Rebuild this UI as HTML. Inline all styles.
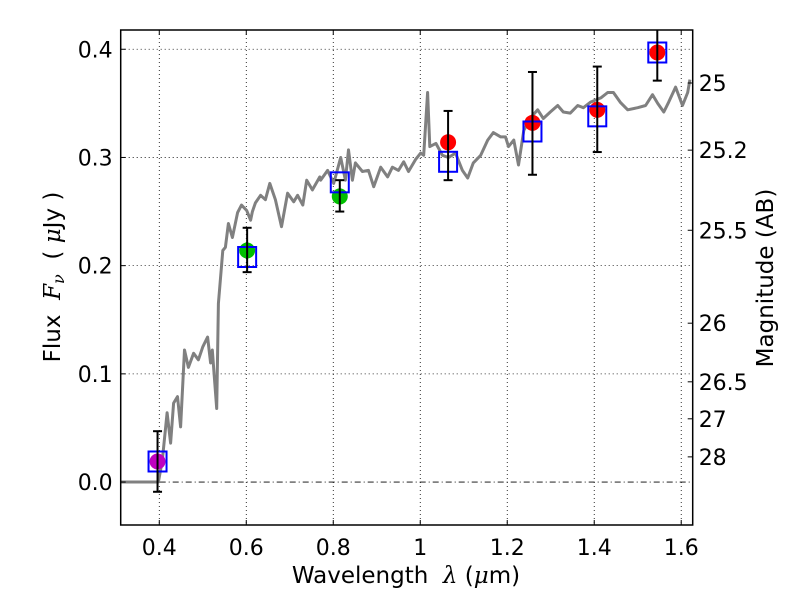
<!DOCTYPE html>
<html><head><meta charset="utf-8"><style>
html,body{margin:0;padding:0;background:#fff;}
svg{display:block;font-family:"DejaVu Sans","Liberation Sans",sans-serif;}
</style></head><body>
<svg id="chart" width="800" height="600" viewBox="0 0 800 600" xmlns="http://www.w3.org/2000/svg">
<rect width="800" height="600" fill="#fff"/>
<g id="grid"></g>
<g id="spec"></g>
<g id="pts"></g>
<g id="axes"></g>
</svg>
<script>
const specLam=[0.311,0.398,0.407,0.418,0.426,0.433,0.442,0.449,0.458,0.467,0.479,0.490,0.500,0.511,0.518,0.522,0.532,0.536,0.546,0.552,0.559,0.568,0.580,0.589,0.601,0.610,0.614,0.621,0.633,0.644,0.654,0.667,0.681,0.695,0.709,0.718,0.730,0.739,0.752,0.769,0.771,0.787,0.801,0.817,0.828,0.835,0.844,0.851,0.867,0.881,0.893,0.909,0.925,0.936,0.950,0.962,0.973,0.989,1.001,1.008,1.017,1.022,1.036,1.051,1.065,1.081,1.097,1.109,1.122,1.139,1.155,1.168,1.185,1.196,1.203,1.215,1.226,1.238,1.254,1.270,1.283,1.299,1.316,1.329,1.345,1.362,1.375,1.391,1.415,1.431,1.444,1.460,1.477,1.500,1.518,1.534,1.546,1.560,1.571,1.587,1.603,1.615,1.620];
const specFlux=[0,0,0.020,0.064,0.036,0.073,0.079,0.051,0.122,0.106,0.119,0.113,0.125,0.134,0.110,0.122,0.068,0.165,0.214,0.217,0.239,0.226,0.249,0.256,0.251,0.242,0.250,0.258,0.265,0.261,0.276,0.261,0.236,0.267,0.259,0.265,0.256,0.279,0.270,0.282,0.279,0.288,0.276,0.300,0.279,0.307,0.279,0.295,0.287,0.288,0.273,0.291,0.282,0.291,0.288,0.296,0.287,0.298,0.304,0.302,0.360,0.310,0.313,0.302,0.300,0.304,0.288,0.281,0.295,0.302,0.316,0.323,0.319,0.319,0.310,0.316,0.293,0.325,0.337,0.344,0.336,0.342,0.348,0.342,0.341,0.348,0.346,0.351,0.355,0.360,0.360,0.351,0.344,0.346,0.348,0.358,0.350,0.342,0.351,0.365,0.348,0.360,0.372];
const bandLam=[0.396,0.602,0.815,1.064,1.258,1.407,1.545];
const obsFlux=[0.019,0.214,0.264,0.314,0.332,0.344,0.397];
const errHi=[0.047,0.235,0.279,0.343,0.379,0.384,0.425];
const errLo=[-0.009,0.194,0.250,0.279,0.284,0.305,0.371];
const modelFlux=[0.019,0.208,0.277,0.296,0.324,0.338,0.397];
const pointColors=['#bf00bf','#00bf00','#00bf00','#ff0000','#ff0000','#ff0000','#ff0000'];
const xTicks=[0.4,0.6,0.8,1.0,1.2,1.4,1.6];
const xTickLabels=['0.4','0.6','0.8','1','1.2','1.4','1.6'];
const yTicks=[0,0.1,0.2,0.3,0.4];
const yTickLabels=['0.0','0.1','0.2','0.3','0.4'];
const magTicks=[25,25.2,25.5,26,26.5,27,28];
const magTickLabels=['25','25.2','25.5','26','26.5','27','28'];

const L=120.7,R=692.7,T=30,B=525;
const XMIN=0.3113,XMAX=1.6264,YMIN=-0.0397,YMAX=0.4178,ZP=23.917;
const sx=v=>L+(v-XMIN)/(XMAX-XMIN)*(R-L);
const sy=v=>B-(v-YMIN)/(YMAX-YMIN)*(B-T);
const NS='http://www.w3.org/2000/svg';
function mk(tag,parent,attrs){const e=document.createElementNS(NS,tag);for(const k in attrs)e.setAttribute(k,attrs[k]);parent.appendChild(e);return e;}
const grid=document.getElementById('grid'),spec=document.getElementById('spec'),pts=document.getElementById('pts'),axes=document.getElementById('axes');

xTicks.forEach((t,i)=>{
  const g=mk('line',grid,{x1:sx(t),x2:sx(t),y1:T,y2:B,stroke:'#000','stroke-width':0.8,'stroke-dasharray':'1,3'});
  
  
});
yTicks.forEach((t,i)=>{
  if(t===0)return;
  const g=mk('line',grid,{x1:L,x2:R,y1:sy(t),y2:sy(t),stroke:'#000','stroke-width':0.8,'stroke-dasharray':'1,3'});
  
  
});
const z=mk('line',grid,{x1:L,x2:R,y1:sy(0),y2:sy(0),stroke:'#000','stroke-width':0.8,'stroke-dasharray':'6,3,1,3'});



const d=specLam.map((l,i)=>(i?'L':'M')+sx(l).toFixed(1)+','+sy(specFlux[i]).toFixed(1)).join(' ');
const sp=mk('path',spec,{d:d,fill:'none',stroke:'#808080','stroke-width':3,'stroke-linejoin':'round'});



bandLam.forEach((l,i)=>{
  const x=sx(l);
  const c=mk('circle',pts,{cx:x,cy:sy(obsFlux[i]),r:8,fill:pointColors[i]});
  
  
  const b=mk('rect',pts,{x:x-9,y:sy(modelFlux[i])-10,width:18,height:20,fill:'none',stroke:'#0000ff','stroke-width':2});
  
  
  const yh=Math.max(sy(errHi[i]),T),yl=sy(errLo[i]);
  const e=mk('line',pts,{x1:x,x2:x,y1:yh,y2:yl,stroke:'#000','stroke-width':2});
  
  
  [yh,yl].forEach(yy=>{
    if(yy<=T+0.5)return;
    const cp=mk('line',pts,{x1:x-4.5,x2:x+4.5,y1:yy,y2:yy,stroke:'#000','stroke-width':2});
    
    
  });
});

const fr=mk('rect',axes,{x:L,y:T,width:R-L,height:B-T,fill:'none',stroke:'#000','stroke-width':1.5});


xTicks.forEach((t,i)=>{
  const x=sx(t);
  mk('line',axes,{x1:x,x2:x,y1:B,y2:B-5,stroke:'#000','stroke-width':1});
  mk('line',axes,{x1:x,x2:x,y1:T,y2:T+5,stroke:'#000','stroke-width':1});
  const tx=mk('text',axes,{x:x,y:B+30,'font-size':22,'text-anchor':'middle',fill:'#000'});
  tx.textContent=xTickLabels[i];
  
  
});
yTicks.forEach((t,i)=>{
  const y=sy(t);
  mk('line',axes,{x1:L,x2:L+5,y1:y,y2:y,stroke:'#000','stroke-width':1});
  const tx=mk('text',axes,{x:L-8,y:y+8,'font-size':22,'text-anchor':'end',fill:'#000'});
  tx.textContent=yTickLabels[i];
  
  
});
magTicks.forEach((m,i)=>{
  const y=sy(Math.pow(10,(ZP-m)/2.5));
  mk('line',axes,{x1:R,x2:R-5,y1:y,y2:y,stroke:'#000','stroke-width':1});
  const tx=mk('text',axes,{x:R+6,y:y+8,'font-size':22,'text-anchor':'start',fill:'#000'});
  tx.textContent=magTickLabels[i];
  
  
});
</script>
<svg style="position:absolute;left:0;top:0" width="800" height="600" xmlns="http://www.w3.org/2000/svg" font-family="DejaVu Sans, Liberation Sans, sans-serif">
<text x="406" y="583" font-size="23" text-anchor="middle" xml:space="preserve">Wavelength  <tspan font-style="italic" font-family="DejaVu Serif, serif">λ</tspan> (<tspan font-style="italic" font-family="DejaVu Serif, serif">μ</tspan>m)</text>
<text transform="translate(60,277) rotate(-90)" font-size="23" text-anchor="middle" xml:space="preserve">Flux  <tspan font-style="italic" font-family="DejaVu Serif, serif">F</tspan><tspan font-style="italic" font-family="DejaVu Serif, serif" font-size="16" dy="4">ν</tspan><tspan dy="-4">  ( </tspan><tspan font-style="italic" font-family="DejaVu Serif, serif">μ</tspan>Jy )</text>
<text transform="translate(773,278) rotate(-90)" font-size="23" text-anchor="middle">Magnitude (AB)</text>
</svg>
</body></html>
